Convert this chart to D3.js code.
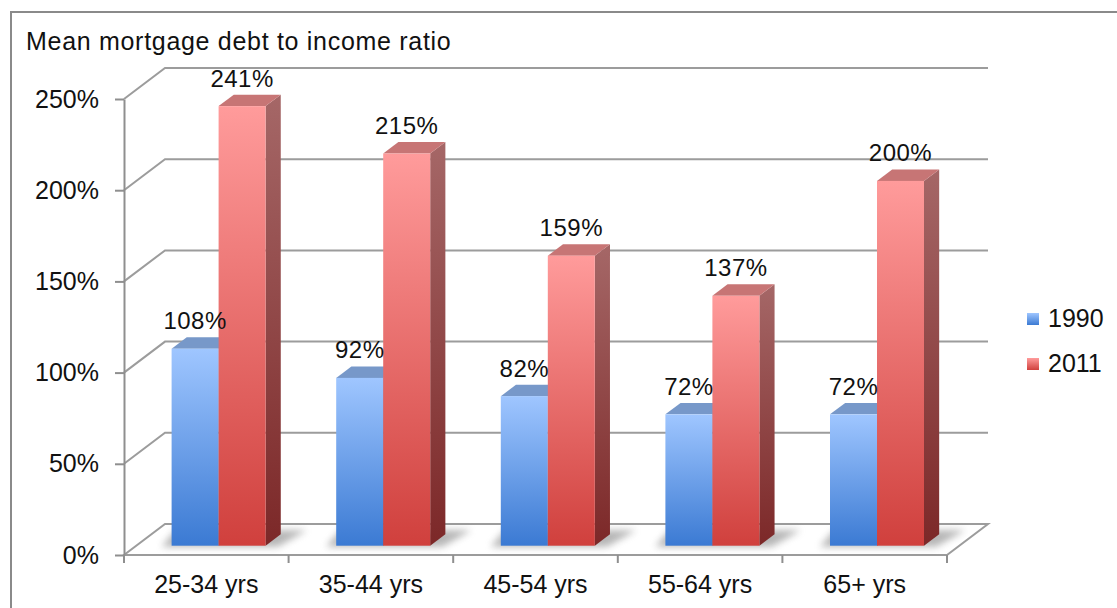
<!DOCTYPE html>
<html>
<head>
<meta charset="utf-8">
<script src="https://cdn.jsdelivr.net/npm/d3@7"></script>
<style>
  body { margin: 0; background: #fff; }
  text { font-family: "Liberation Sans", Arial, sans-serif; fill: #111; }
</style>
</head>
<body>
<div id="chart"></div>
<script>
var categories = ["25-34 yrs", "35-44 yrs", "45-54 yrs", "55-64 yrs", "65+ yrs"],
    series = ["1990", "2011"],
    values1990 = [108, 92, 82, 72, 72],
    values2011 = [241, 215, 159, 137, 200],
    yTicks = [0, 50, 100, 150, 200, 250];

var svg_dx = 1117, svg_dy = 608;

// front floor edge + 3d depth of the box
var left = 124, right = 947, base = 555,
    depthX = 41, depthY = 31,
    plotH = 456,
    barStart = 0.3, barDepth = 0.37, groupW = 94;

var x0 = d3.scaleBand().domain(categories).range([left, right]).padding(0);
var x1 = d3.scaleBand().domain(series).range([0, groupW]).padding(0);
var h = d3.scaleLinear().domain([0, 250]).range([0, plotH]);
var yFront = d3.scaleLinear().domain([0, 250]).range([base, base - plotH]);

var svg = d3.select("#chart")
    .append("svg")
    .attr("width", svg_dx)
    .attr("height", svg_dy);

var defs = svg.append("defs");

function grad(id, c0, c1) {
  var g = defs.append("linearGradient").attr("id", id)
      .attr("x1", 0).attr("y1", 0).attr("x2", 0).attr("y2", 1);
  g.append("stop").attr("offset", "0%").attr("stop-color", c0);
  g.append("stop").attr("offset", "100%").attr("stop-color", c1);
}
grad("blueFront", "#9fc6ff", "#3b7ad3");
grad("redFront", "#ff9b9b", "#d0403d");
grad("redSide", "#a56767", "#7c2828");
grad("blueSide", "#6f8fc0", "#2c5a9c");

defs.append("filter").attr("id", "blur")
    .attr("x", "-50%").attr("y", "-50%").attr("width", "200%").attr("height", "200%")
    .append("feGaussianBlur").attr("stdDeviation", 3.5);

// outer border
svg.append("rect")
   .attr("x", 11).attr("y", 12)
   .attr("width", 1300).attr("height", 800)
   .style("fill", "none")
   .style("stroke", "#8a8a8a")
   .style("stroke-width", 2);

// title
svg.append("text")
   .attr("x", 26).attr("y", 50)
   .style("font-size", "25px")
   .style("letter-spacing", "0.7px")
   .text("Mean mortgage debt to income ratio");

var grid = svg.append("g")
   .style("stroke", "#9c9c9c")
   .style("stroke-width", 2)
   .style("fill", "none");

// floor
var floorPts = [[left, base], [right, base], [right + depthX, base - depthY], [left + depthX, base - depthY]];
grid.append("polygon")
    .attr("points", floorPts.map(p => p.join(",")).join(" "))
    .style("fill", "#fff");

// side wall + back wall gridlines
grid.selectAll(".gl")
    .data(yTicks.filter(d => d > 0))
    .enter()
    .append("polyline")
    .attr("points", d => [
        [left, yFront(d)],
        [left + depthX, yFront(d) - depthY],
        [right + depthX, yFront(d) - depthY]
      ].map(p => p.join(",")).join(" "));

// y axis on the front edge
var yAxis = svg.append("g")
   .attr("transform", "translate(" + left + ",0)")
   .call(d3.axisLeft(yFront).tickValues(yTicks).tickFormat(d => d + "%")
         .tickSize(9).tickSizeOuter(0).tickPadding(16));
yAxis.selectAll("line, path").style("stroke", "#8f8f8f").style("stroke-width", 2);
yAxis.selectAll("text").style("font-size", "25px").style("font-family", "Liberation Sans, Arial, sans-serif").style("fill", "#111");

// x axis ticks on the boundaries
svg.append("g")
   .selectAll("line")
   .data(categories.map(c => x0(c)).concat([right]))
   .enter()
   .append("line")
   .attr("x1", d => d).attr("x2", d => d)
   .attr("y1", base).attr("y2", base + 8)
   .style("stroke", "#8f8f8f")
   .style("stroke-width", 2);

svg.append("g")
   .selectAll("text")
   .data(categories)
   .enter()
   .append("text")
   .attr("x", d => x0(d) + x0.bandwidth() / 2)
   .attr("y", 593)
   .attr("text-anchor", "middle")
   .style("font-size", "25px")
   .text(d => d);

// bars
var dx0 = barStart * depthX, dy0 = barStart * depthY,
    dx1 = barDepth * depthX, dy1 = barDepth * depthY,
    barBase = base - dy0;

function pts(a) { return a.map(p => p.join(",")).join(" "); }

var rows = categories.map((c, i) => ({cat: c, vals: [values1990[i], values2011[i]]}));

var groups = svg.append("g")
   .selectAll("g")
   .data(rows)
   .enter()
   .append("g")
   .attr("transform", d => "translate(" + (x0(d.cat) + (x0.bandwidth() - groupW) / 2 + dx0) + ",0)");

// floor shadow
groups.append("polygon")
   .attr("points", pts([[-10, barBase + 1], [groupW + 12, barBase + 1],
                        [groupW + dx1 + 26, barBase - dy1 - 4], [4, barBase - dy1 - 4]]))
   .style("fill", "#7a7a7a")
   .style("opacity", 0.55)
   .attr("filter", "url(#blur)");

var fronts = ["url(#blueFront)", "url(#redFront)"],
    sides = ["url(#blueSide)", "url(#redSide)"],
    tops = ["#7798c9", "#c77575"];

series.forEach(function(s, k) {
  var bx = x1(s), bw = x1.bandwidth();
  groups.append("polygon")
     .attr("points", d => {
        var yt = barBase - h(d.vals[k]);
        return pts([[bx + bw, yt], [bx + bw + dx1, yt - dy1], [bx + bw + dx1, barBase - dy1], [bx + bw, barBase]]);
     })
     .style("fill", sides[k]);
  groups.append("polygon")
     .attr("points", d => {
        var yt = barBase - h(d.vals[k]);
        return pts([[bx, yt], [bx + bw, yt], [bx + bw + dx1, yt - dy1], [bx + dx1, yt - dy1]]);
     })
     .style("fill", tops[k]);
  groups.append("rect")
     .attr("x", bx)
     .attr("y", d => barBase - h(d.vals[k]))
     .attr("width", bw)
     .attr("height", d => h(d.vals[k]))
     .style("fill", fronts[k]);
});

// value labels
series.forEach(function(s, k) {
  groups.append("text")
     .attr("x", x1(s) + x1.bandwidth() / 2)
     .attr("y", d => barBase - h(d.vals[k]) - dy1 - 8)
     .attr("text-anchor", "middle")
     .style("font-size", "24px")
     .style("letter-spacing", "0.5px")
     .text(d => d.vals[k] + "%");
});

// legend
var legend = svg.append("g")
   .selectAll("g")
   .data(series)
   .enter()
   .append("g")
   .attr("transform", (d, i) => "translate(1027," + (313 + i * 45) + ")");

legend.append("rect")
   .attr("width", 12).attr("height", 12)
   .style("fill", (d, i) => fronts[i]);

legend.append("text")
   .attr("x", 21).attr("y", 14)
   .style("font-size", "25px")
   .text(d => d);
</script>
</body>
</html>
